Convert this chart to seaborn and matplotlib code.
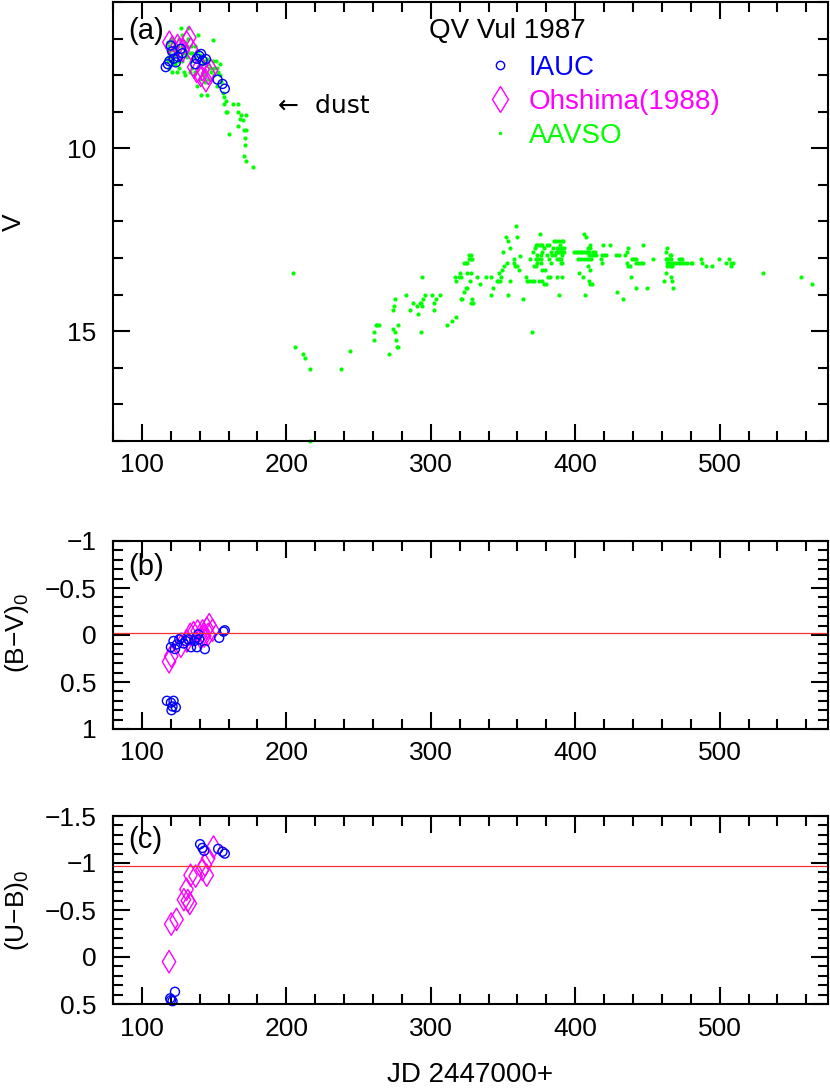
import numpy as np
import pandas as pd
import matplotlib
matplotlib.use("Agg")
import matplotlib.pyplot as plt
import seaborn as sns
from matplotlib.lines import Line2D
from matplotlib.ticker import MultipleLocator, FuncFormatter

# ---------------- data ----------------
# panel (a): V magnitude
iauc_v_jd = [116.5, 118, 119, 120, 121, 122, 123.5, 125, 127, 128, 137, 138, 139.7, 141, 142, 144.3, 152.4, 155.8, 157.4]
iauc_v = [7.78, 7.70, 7.62, 7.19, 7.35, 7.55, 7.65, 7.50, 7.28, 7.40, 7.70, 7.55, 7.47, 7.42, 7.60, 7.56, 8.12, 8.24, 8.37]

ohshima_v_jd = [119, 121, 124.7, 126, 128.2, 131, 132.8, 133.9, 136.2, 138, 140.8, 142, 144.3, 146, 147.8]
ohshima_v = [7.10, 7.24, 7.19, 7.30, 7.33, 7.10, 6.97, 7.28, 7.78, 7.90, 8.01, 7.85, 8.15, 7.95, 7.87]

aavso_early = [(118, 7.1), (118, 7.3), (118, 7.5), (118, 7.6), (119, 7.2), (119, 7.4), (119, 7.8), (120, 7.0),
               (120, 7.3), (120, 7.5), (121, 7.1), (121, 7.6), (121, 7.9), (122, 7.3), (122, 7.45), (123, 7.2),
               (123, 7.7), (124, 7.4), (124, 7.9), (125, 7.2), (125, 7.6), (126, 7.0), (126, 7.35), (126, 7.8),
               (127, 6.72), (127, 7.5), (128, 6.9), (128, 7.2), (128, 7.6), (129, 7.4), (129, 7.9), (130, 7.1),
               (130, 7.3), (130, 8.0), (131, 7.2), (131, 7.5), (132, 6.72), (132, 7.0), (133, 7.4), (133, 7.9),
               (134, 7.2), (134, 7.6), (135, 7.4), (135, 7.8), (136, 7.5), (136, 8.0), (137, 7.2), (137, 7.9),
               (138, 7.6), (138, 8.3), (139, 6.9), (139, 7.35), (139, 7.8), (140, 7.45), (140, 8.1), (141, 7.5),
               (141, 8.55), (142, 7.7), (142, 8.0), (143, 7.6), (143, 7.9), (144, 8.2), (145, 7.55), (145, 8.55),
               (146, 7.7), (146, 8.1), (147, 7.8), (148, 7.9), (149, 7.05), (149, 7.6), (150, 7.8), (150, 8.0),
               (151, 7.6), (152, 7.8), (152, 8.3), (153, 7.9), (154, 7.7), (154, 8.0), (155, 8.2), (156, 8.5),
               (157, 8.6), (157, 8.8), (158, 8.7), (158, 9.0), (159, 9.0), (160, 9.62), (162.8, 8.8), (166.6, 8.8),
               (166.2, 9.01), (168.5, 9.10), (172, 9.10), (167.8, 9.19), (169.7, 9.22), (166.6, 9.40), (170.8, 9.51),
               (172, 9.51), (171.3, 9.71), (171.5, 9.92), (171, 10.22), (172.3, 10.34), (176.6, 10.5)]

aavso_late = [(204.7, 13.42), (205.7, 15.43), (211.6, 15.63), (212.6, 15.73), (216.7, 16.03), (216.7, 18.0),
              (237.5, 16.03), (244.4, 15.53), (261, 15.03), (261, 15.23), (262, 14.83), (263, 14.83), (264, 14.83),
              (271.2, 15.63), (273.7, 14.93), (274, 14.43), (274.6, 14.32), (275.3, 14.12), (275.3, 15.03),
              (276, 15.23), (276.4, 15.43), (277, 15.43), (277.4, 14.83),
              (282.7, 14.02), (285.7, 14.42), (287.7, 14.22), (290.3, 14.32), (291.2, 14.52), (292.6, 14.22),
              (293.5, 14.22), (294.2, 13.53), (294.9, 14.12), (294.2, 14.32), (295.8, 14.02), (293.0, 15.02),
              (301.1, 14.02), (302.3, 14.22), (302.3, 14.42), (303.4, 14.12), (306.4, 14.02),
              (311.5, 14.82), (315.0, 14.72), (317.3, 14.62),
              (316.6, 13.53), (319.6, 13.53), (321.2, 13.53), (317.3, 13.62), (320.3, 13.42), (320.7, 14.12),
              (321.9, 14.12), (328.8, 14.12), (323.0, 13.13), (324.2, 13.13), (325.3, 13.13), (326.5, 13.03),
              (327.6, 13.03), (328.8, 13.03), (326.5, 12.92), (327.6, 12.92), (324.2, 13.82), (325.3, 13.82),
              (323.0, 13.92), (327.2, 13.62), (325.3, 13.42), (327.6, 13.42), (328.1, 14.22), (329.3, 14.22),
              (332.3, 13.53), (333.9, 13.72), (338.5, 13.53), (341.5, 13.53), (341.5, 14.02), (343.3, 13.82),
              (345.6, 13.62), (346.8, 13.62), (347.9, 13.62), (347.3, 13.42), (348.4, 13.53), (349.6, 13.33),
              (350.7, 13.23), (352.6, 13.13), (350.0, 12.83), (351.9, 12.42), (353.7, 12.53), (354.9, 12.72),
              (353.7, 14.02), (354.9, 13.62), (357.6, 13.03), (357.6, 13.13), (358.8, 12.13), (359.5, 12.42),
              (358.3, 13.23), (359.9, 13.23), (361.1, 13.33), (361.8, 12.93), (363.9, 14.12), (365.7, 13.53),
              (366.9, 13.62), (368.0, 13.62), (368.7, 13.03), (370.3, 15.02), (370.3, 13.62), (371.5, 13.62),
              (371.0, 12.83), (372.2, 12.73), (372.6, 12.63), (373.8, 12.63), (374.9, 12.63), (376.1, 12.63),
              (377.2, 12.63), (372.6, 13.03), (373.8, 13.03), (374.9, 13.03), (376.1, 13.03), (373.3, 13.13),
              (376.1, 13.13), (371.5, 13.23), (372.6, 13.23), (373.8, 12.92), (376.1, 12.92), (377.2, 12.83),
              (378.4, 12.72), (375.6, 12.33), (374.9, 13.62), (377.2, 13.62), (377.2, 13.33), (378.9, 13.33),
              (378.4, 13.72), (380.0, 13.72), (380.7, 12.63), (381.9, 12.63), (380.7, 12.92), (381.9, 13.03),
              (383.0, 13.13), (381.4, 13.53), (382.6, 13.53), (383.5, 12.83), (384.9, 12.72), (385.3, 12.53),
              (386.5, 12.53), (384.2, 12.92), (385.8, 12.92), (387.2, 13.03), (388.8, 13.03), (389.9, 13.03),
              (386.5, 12.83), (387.6, 12.83), (388.8, 12.83), (389.9, 12.83), (391.1, 12.83), (392.2, 12.83),
              (387.6, 12.72), (389.5, 12.72), (391.1, 12.72), (392.2, 12.72), (389.5, 12.63), (388.8, 12.53),
              (390.6, 12.53), (391.8, 12.53), (389.9, 13.13), (391.1, 13.13), (390.6, 13.53), (388.8, 14.02),
              (387.6, 13.53), (391.1, 12.92),
              (399.2, 12.83), (400.3, 12.83), (401.5, 12.83), (402.6, 12.83), (403.8, 12.83), (404.9, 12.83),
              (406.1, 12.83), (407.2, 12.83), (408.4, 12.83), (409.5, 12.83), (402.6, 13.42), (405.6, 13.53),
              (406.5, 14.02), (406.1, 12.33), (407.2, 12.42), (402.2, 13.03), (403.8, 13.03), (406.1, 13.03),
              (408.4, 13.03), (409.5, 13.03), (411.2, 13.03), (408.9, 12.72), (410.2, 12.72), (410.2, 12.63),
              (409.5, 12.92), (411.9, 12.92), (413.0, 12.92), (414.2, 12.92), (409.1, 13.23), (410.2, 13.33),
              (409.5, 13.62), (410.2, 13.72), (411.4, 13.72), (412.5, 12.83), (413.5, 12.83),
              (417.6, 13.03), (418.3, 13.13), (418.8, 12.92), (419.9, 12.92), (421.1, 12.92), (419.2, 12.63),
              (424.1, 12.63), (428.0, 12.92), (430.3, 12.92), (429.2, 13.93), (433.3, 14.12), (434.2, 12.92),
              (435.6, 12.83), (436.8, 12.72), (435.6, 13.13), (436.8, 13.23), (437.9, 13.23), (438.4, 13.53),
              (439.5, 13.03), (440.7, 13.03), (441.8, 13.03), (441.8, 13.13), (443.5, 13.13), (445.8, 13.13),
              (446.9, 13.13), (441.8, 13.82), (447.1, 12.63), (449.9, 13.82), (453.8, 13.03),
              (462.6, 12.83), (463.3, 12.72), (462.6, 13.03), (463.8, 13.03), (464.9, 13.03), (466.1, 13.03),
              (463.8, 13.13), (464.9, 13.13), (467.2, 13.13), (468.4, 13.13), (469.5, 13.13), (463.8, 13.23),
              (465.6, 13.23), (467.2, 13.23), (462.6, 13.42), (461.5, 13.62), (467.2, 13.62), (466.5, 13.53),
              (467.9, 13.82), (465.6, 12.92), (466.5, 12.92), (471.8, 13.03), (473.0, 13.03), (474.1, 13.03),
              (471.8, 13.13), (473.5, 13.13), (475.3, 13.13), (477.6, 13.13), (479.9, 13.13), (481.1, 13.13),
              (486.8, 13.03), (488.0, 13.13), (490.3, 13.23), (494.4, 13.23), (499.5, 13.03), (504.1, 13.13),
              (506.4, 13.03), (508.0, 13.13), (509.4, 13.13), (507.6, 13.23), (530.0, 13.42), (556.0, 13.53),
              (564.1, 13.72)]

# panel (b): (B-V)0
iauc_bv_jd = [117.3, 120.1, 121.9, 121.2, 120.5, 123.5,
              120.1, 121.9, 122.9, 124.3, 125.9, 127.5, 128.9, 130.5, 132.1, 134.0, 136.3, 137.4, 139.0, 139.7,
              138.1, 143.6, 153.5, 156.5, 157.4]
iauc_bv = [0.70, 0.72, 0.70, 0.76, 0.80, 0.77,
           0.13, 0.064, 0.15, 0.10, 0.046, 0.03, 0.09, 0.064, 0.046, 0.13, 0.064, 0.03, -0.007, 0.046,
           0.13, 0.15, 0.03, -0.036, -0.05]
ohshima_bv_jd = [118.8, 120.3, 127.0, 131.2, 133.5, 135.8, 138.6, 142.0, 145.0, 146.6, 145.9, 148.9, 143.2, 140.9]
ohshima_bv = [0.285, 0.225, 0.12, 0.064, -0.007, -0.025, -0.043, -0.043, -0.07, -0.11, -0.007, -0.05, 0.01, 0.03]

# panel (c): (U-B)0
iauc_ub_jd = [140.3, 141.9, 143.1, 152.8, 155.8, 157.4, 120.1, 121.2, 122.9, 119.6]
iauc_ub = [-1.20, -1.16, -1.13, -1.15, -1.12, -1.10, 0.46, 0.47, 0.37, 0.44]
ohshima_ub_jd = [118.8, 120.3, 124.0, 129.1, 130.9, 131.8, 133.2, 133.7, 137.2, 141.9, 144.9, 143.6, 145.9, 149.6]
ohshima_ub = [0.05, -0.35, -0.40, -0.61, -0.72, -0.60, -0.57, -0.87, -0.86, -0.93, -0.87, -0.98, -1.05, -1.17]

intrinsic_bv = -0.02
intrinsic_ub = -0.97

aavso = pd.DataFrame(aavso_early + aavso_late, columns=["jd", "v"])

# ---------------- style ----------------
sns.set_theme(style="ticks", rc={"text.color": "black", "axes.labelcolor": "black",
                                 "xtick.color": "black", "ytick.color": "black",
                                 "axes.edgecolor": "black"})
plt.rcParams["font.family"] = ["Liberation Sans", "DejaVu Sans"]
plt.rcParams["mathtext.fontset"] = "custom"
plt.rcParams["mathtext.rm"] = "Liberation Sans"
plt.rcParams["mathtext.default"] = "regular"

FS = 19
FT = 20
BLUE, MAG, GRN = "#0000ff", "#ff00ff", "#00ff00"

fig = plt.figure(figsize=(8.30, 10.89), dpi=100)
W, H = 830.0, 1089.0
left, right = 113 / W, 828 / W
ax_a = fig.add_axes([left, 1 - 441 / H, right - left, (441 - 2) / H])
ax_b = fig.add_axes([left, 1 - 729 / H, right - left, (729 - 541) / H])
ax_c = fig.add_axes([left, 1 - 1004 / H, right - left, (1004 - 816) / H])

circ_kw = dict(marker="o", s=42, facecolor="none", edgecolor=BLUE, linewidth=1.0)
diam_kw = dict(marker="d", s=130, facecolor="none", edgecolor=MAG, linewidth=1.0)

# panel a
sns.scatterplot(data=aavso, x="jd", y="v", ax=ax_a, marker="o", s=9, color=GRN, linewidth=0, clip_on=False)
sns.scatterplot(x=ohshima_v_jd, y=ohshima_v, ax=ax_a, **diam_kw)
sns.scatterplot(x=iauc_v_jd, y=iauc_v, ax=ax_a, **circ_kw)

# panel b
ax_b.axhline(intrinsic_bv, color="#ff3030", lw=0.9)
sns.scatterplot(x=ohshima_bv_jd, y=ohshima_bv, ax=ax_b, **diam_kw)
sns.scatterplot(x=iauc_bv_jd, y=iauc_bv, ax=ax_b, **circ_kw)

# panel c
ax_c.axhline(intrinsic_ub, color="#ff3030", lw=0.9)
sns.scatterplot(x=ohshima_ub_jd, y=ohshima_ub, ax=ax_c, **diam_kw)
sns.scatterplot(x=iauc_ub_jd, y=iauc_ub, ax=ax_c, **circ_kw, clip_on=False)

ax_a.set_ylim(18, 6)
ax_b.set_ylim(1, -1)
ax_c.set_ylim(0.5, -1.5)


def colour_fmt(v, p):
    if abs(v) < 1e-9:
        return "0"
    return ("%g" % v).replace("-", "\u2212")


for ax in (ax_a, ax_b, ax_c):
    ax.set_xlim(80, 575)
    ax.xaxis.set_major_locator(MultipleLocator(100))
    ax.xaxis.set_minor_locator(MultipleLocator(20))
    ax.tick_params(which="both", direction="in", top=True, right=True, width=1.5,
                   labelsize=FS, colors="black")
    ax.tick_params(which="major", length=12)
    ax.tick_params(which="minor", length=7)
    ax.tick_params(axis="x", pad=9)
    ax.tick_params(axis="y", pad=12)
    for sp in ax.spines.values():
        sp.set_linewidth(1.5)
        sp.set_color("black")
    ax.set_xlabel("")
    ax.set_ylabel("")

ax_a.yaxis.set_major_locator(MultipleLocator(5))
ax_a.yaxis.set_minor_locator(MultipleLocator(1))
ax_a.yaxis.set_major_formatter(FuncFormatter(lambda v, p: "%d" % v))
for ax in (ax_b, ax_c):
    ax.yaxis.set_major_locator(MultipleLocator(0.5))
    ax.yaxis.set_minor_locator(MultipleLocator(0.1))
    ax.yaxis.set_major_formatter(FuncFormatter(colour_fmt))

# axis titles placed in figure pixels as in the reference
fig.text(14 / W, 1 - 222 / H, "V", rotation=90, ha="center", va="center", fontsize=FS)
fig.text(17 / W, 1 - 633 / H, "(B\u2212V)$_0$", rotation=90, ha="center", va="center", fontsize=FS)
fig.text(17 / W, 1 - 910 / H, "(U\u2212B)$_0$", rotation=90, ha="center", va="center", fontsize=FS)
fig.text(470 / W, 1 - 1075 / H, "JD 2447000+", ha="center", va="center", fontsize=FT)

ax_a.text(0.021, 0.933, "(a)", transform=ax_a.transAxes, fontsize=FT + 1, va="center")
ax_b.text(0.021, 0.86, "(b)", transform=ax_b.transAxes, fontsize=FT + 1, va="center")
ax_c.text(0.021, 0.87, "(c)", transform=ax_c.transAxes, fontsize=FT + 1, va="center")
ax_a.text(0.552, 0.933, "QV Vul 1987", transform=ax_a.transAxes, fontsize=FT, ha="center", va="center")
ax_a.text(194, 8.83, "\u2190  dust", fontsize=FS - 1, ha="left", va="center",
          family=["DejaVu Sans"])

handles = [
    Line2D([], [], ls="none", marker="o", ms=6, mfc="none", mec=BLUE, mew=1.0),
    Line2D([], [], ls="none", marker="d", ms=13, mfc="none", mec=MAG, mew=1.0),
    Line2D([], [], ls="none", marker="o", ms=2.5, mfc=GRN, mec=GRN, mew=0),
]
ax_a.legend(handles, ["IAUC", "Ohshima(1988)", "AAVSO"], loc="upper left",
            bbox_to_anchor=(487 / W, 1 - 55 / H), bbox_transform=fig.transFigure,
            frameon=False, fontsize=FT, handlelength=0.9, handletextpad=0.6,
            labelspacing=0.28, borderpad=0, borderaxespad=0,
            labelcolor=[BLUE, MAG, GRN])

fig.savefig("out.png", dpi=100)
